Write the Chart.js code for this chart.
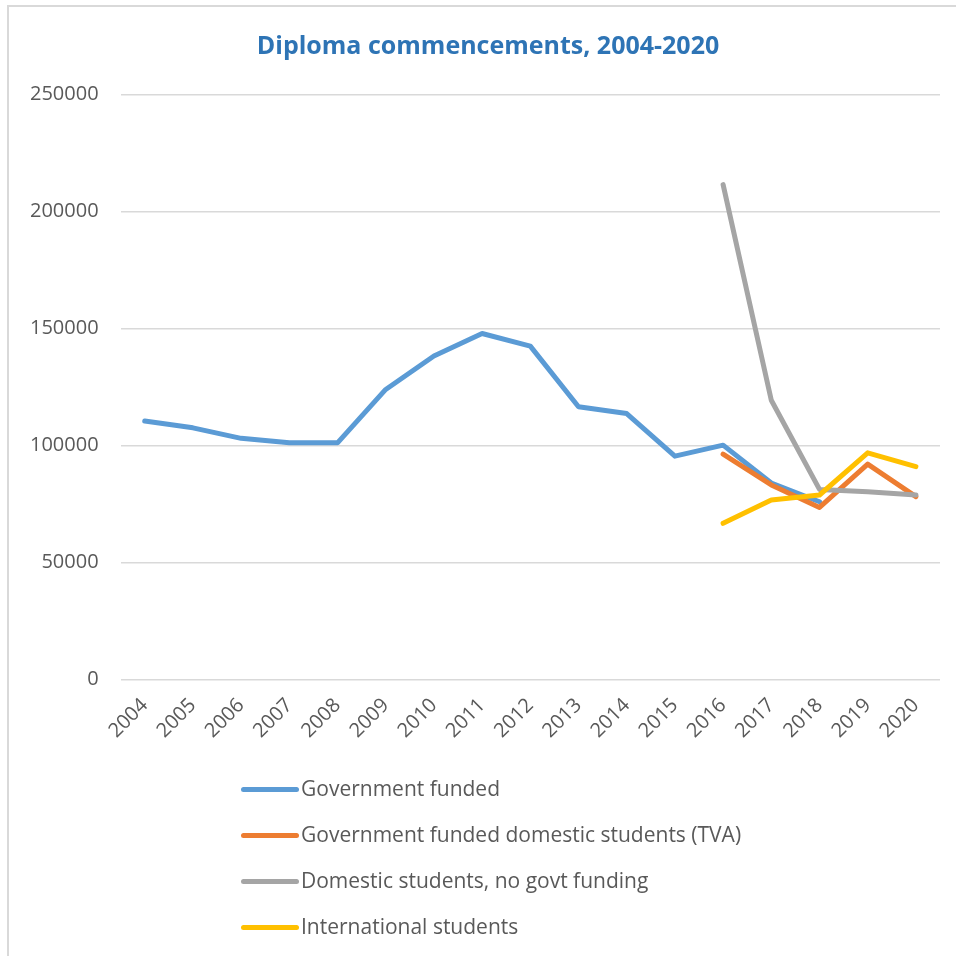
<!DOCTYPE html>
<html>
<head>
<meta charset="utf-8">
<script src="https://cdn.jsdelivr.net/npm/chart.js@4"></script>
<style>
    body { margin: 0; background: #fff; }
    #wrap { position: relative; width: 956px; height: 956px; overflow: hidden; }
    #frame { position: absolute; left: 7px; top: 5px; width: 960px; height: 960px;
             border-top: 2px solid #d9d9d9; border-left: 2px solid #d9d9d9; }
    #legend { position: absolute; left: 241px; top: 774px; font-family: "Open Sans", sans-serif;
              font-size: 21px; color: #595959; }
    .item { height: 46px; display: flex; align-items: flex-start; }
    .swatch { width: 58px; height: 5px; border-radius: 3px; margin-top: 13px; margin-right: 2px; }
</style>
</head>
<body>
<div id="wrap">
    <div id="frame"></div>
    <canvas id="chart" width="956" height="956"></canvas>
    <div id="legend"></div>
</div>
<script>
// Data
const years = ["2004", "2005", "2006", "2007", "2008", "2009", "2010", "2011", "2012",
               "2013", "2014", "2015", "2016", "2017", "2018", "2019", "2020"];
const govFunded = [110500, 107600, 103100, 101200, 101200, 124000, 138300, 147900, 142500,
                   116600, 113700, 95500, 100200, 84000, 76000, null, null];
const tvaDomestic = [null, null, null, null, null, null, null, null, null,
                     null, null, null, 96400, 83200, 73600, 92100, 78200];
const noGovtFunding = [null, null, null, null, null, null, null, null, null,
                       null, null, null, 211500, 119400, 81300, 80300, 78900];
const international = [null, null, null, null, null, null, null, null, null,
                       null, null, null, 66800, 76800, 78900, 96900, 91000];
const yTicks = [0, 50000, 100000, 150000, 200000, 250000];

const textColor = "#595959";
const gridColor = "#d9d9d9";

function series(label, data, color, order) {
    return {
        label: label,
        data: data,
        borderColor: color,
        backgroundColor: color,
        borderWidth: 5,
        borderCapStyle: "round",
        borderJoinStyle: "round",
        pointRadius: 0,
        pointHoverRadius: 0,
        tension: 0,
        spanGaps: false,
        order: order
    };
}

// Nudge the title a bit to the right, as in the original
const titleShift = {
    id: "titleShift",
    afterLayout(chart) {
        chart.titleBlock.left += 14;
        chart.titleBlock.right += 14;
    }
};

const chart = new Chart(document.getElementById("chart"), {
    type: "line",
    data: {
        labels: years,
        datasets: [
            series("Government funded", govFunded, "#5b9bd5", 4),
            series("Government funded domestic students (TVA)", tvaDomestic, "#ed7d31", 3),
            series("Domestic students, no govt funding", noGovtFunding, "#a5a5a5", 2),
            series("International students", international, "#ffc000", 1)
        ]
    },
    options: {
        responsive: false,
        animation: false,
        layout: { padding: { left: 8, right: 16, top: 0, bottom: 207 } },
        plugins: {
            legend: { display: false },
            tooltip: { enabled: false },
            title: {
                display: true,
                text: "Diploma commencements, 2004-2020",
                color: "#2e74b5",
                font: { family: "'Open Sans', sans-serif", size: 25, weight: "bold" },
                padding: { top: 32, bottom: 32.5 }
            }
        },
        scales: {
            x: {
                offset: true,
                grid: { display: false },
                border: { display: false },
                ticks: {
                    color: textColor,
                    font: { family: "'Open Sans', sans-serif", size: 20 },
                    maxRotation: 45,
                    minRotation: 45,
                    padding: 6,
                    autoSkip: false
                }
            },
            y: {
                min: 0,
                max: 250000,
                afterBuildTicks: axis => { axis.ticks = yTicks.map(v => ({ value: v })); },
                grid: { color: gridColor, lineWidth: 1.5, drawTicks: false },
                border: { display: false },
                ticks: {
                    color: textColor,
                    font: { family: "'Open Sans', sans-serif", size: 20 },
                    padding: 22,
                    callback: v => String(v)
                }
            }
        }
    },
    plugins: [titleShift]
});

// Vertical legend under the chart, built from the datasets
const legend = document.getElementById("legend");
chart.data.datasets.forEach(ds => {
    const item = document.createElement("div");
    item.className = "item";
    const sw = document.createElement("span");
    sw.className = "swatch";
    sw.style.background = ds.borderColor;
    const txt = document.createElement("span");
    txt.textContent = ds.label;
    item.appendChild(sw);
    item.appendChild(txt);
    legend.appendChild(item);
});
</script>
</body>
</html>
